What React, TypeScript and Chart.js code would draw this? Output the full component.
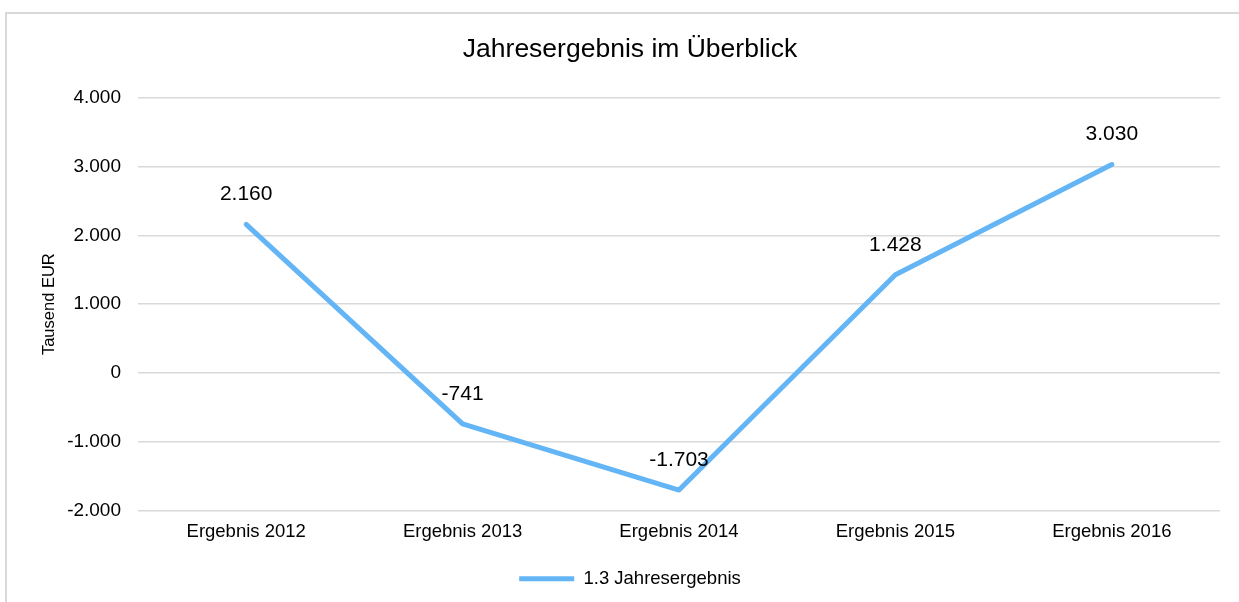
import React, { useEffect, useRef } from "react";
import { Chart, registerables } from "chart.js";

Chart.register(...registerables);

const categories = ["Ergebnis 2012", "Ergebnis 2013", "Ergebnis 2014", "Ergebnis 2015", "Ergebnis 2016"];
const values = [2160, -741, -1703, 1428, 3030];
const seriesName = "1.3 Jahresergebnis";
const chartTitle = "Jahresergebnis im Überblick";
const yTitle = "Tausend EUR";
const yMin = -2000;
const yMax = 4000;
const yStep = 1000;

const FONT = "Arial, 'Liberation Sans', sans-serif";

function fmt(v: number): string {
  const neg = v < 0;
  const s = Math.abs(Math.round(v)).toString();
  const parts: string[] = [];
  for (let i = s.length; i > 0; i -= 3) parts.unshift(s.slice(Math.max(0, i - 3), i));
  return (neg ? "-" : "") + parts.join(".");
}

const framePlugin = {
  id: "frame",
  beforeDraw(chart: any) {
    const ctx = chart.ctx;
    ctx.save();
    ctx.fillStyle = "#ffffff";
    ctx.fillRect(0, 0, chart.width, chart.height);
    ctx.strokeStyle = "#d9d9d9";
    ctx.lineWidth = 2;
    ctx.beginPath();
    ctx.moveTo(6, chart.height + 5);
    ctx.lineTo(6, 13);
    ctx.lineTo(chart.width + 5, 13);
    ctx.stroke();
    ctx.restore();
  },
};

const labelPlugin = {
  id: "valueLabels",
  afterDatasetsDraw(chart: any) {
    const ctx = chart.ctx;
    const meta = chart.getDatasetMeta(0);
    ctx.save();
    ctx.font = `21px ${FONT}`;
    ctx.fillStyle = "#000000";
    ctx.textAlign = "center";
    ctx.textBaseline = "middle";
    meta.data.forEach((pt: any, i: number) => {
      ctx.fillText(fmt(values[i]), pt.x, pt.y - 30);
    });
    ctx.restore();
  },
};

export default function App() {
  const ref = useRef<HTMLCanvasElement | null>(null);
  useEffect(() => {
    if (!ref.current) return;
    const chart = new Chart(ref.current, {
      type: "line",
      data: {
        labels: categories,
        datasets: [
          {
            label: seriesName,
            data: values,
            borderColor: "#64b5f6",
            backgroundColor: "#64b5f6",
            borderWidth: 5,
            borderCapStyle: "round",
            borderJoinStyle: "round",
            pointRadius: 0,
            pointHoverRadius: 0,
            tension: 0,
          },
        ],
      },
      options: {
        animation: false,
        responsive: false,
        maintainAspectRatio: false,
        layout: { padding: { left: 40, right: 19, top: 0, bottom: 4 } },
        plugins: {
          title: {
            display: true,
            text: chartTitle,
            color: "#000000",
            font: { family: FONT, size: 26.5, weight: "normal" },
            padding: { top: 34, bottom: 32 },
          },
          legend: {
            display: true,
            position: "bottom",
            labels: {
              color: "#000000",
              font: { family: FONT, size: 18.5 },
              usePointStyle: true,
              pointStyle: "line",
              pointStyleWidth: 55,
              padding: 10,
            },
          },
          tooltip: { enabled: false },
        },
        scales: {
          x: {
            type: "category",
            offset: true,
            grid: { display: false, drawTicks: false },
            border: { display: false },
            ticks: { color: "#000000", font: { family: FONT, size: 18.5 }, padding: 10, maxRotation: 0 },
            afterFit(scale: any) {
              scale.height = 49;
            },
          },
          y: {
            min: yMin,
            max: yMax,
            grid: { color: "#d9d9d9", lineWidth: 1.5, drawTicks: false },
            border: { display: false },
            ticks: {
              stepSize: yStep,
              color: "#000000",
              font: { family: FONT, size: 19 },
              padding: 17,
              callback: (v: any) => fmt(Number(v)),
            },
            title: {
              display: true,
              text: yTitle,
              color: "#000000",
              font: { family: FONT, size: 16.5 },
              padding: { top: 0, bottom: 0 },
            },
            afterFit(scale: any) {
              scale.width = 98;
            },
          },
        },
      },
      plugins: [framePlugin, labelPlugin],
    } as any);
    return () => chart.destroy();
  }, []);
  return (
    <div style={{ position: "absolute", left: 0, top: 0, width: 1239, height: 602 }}>
      <canvas ref={ref} width={1239} height={602} style={{ display: "block", width: 1239, height: 602 }} />
    </div>
  );
}
